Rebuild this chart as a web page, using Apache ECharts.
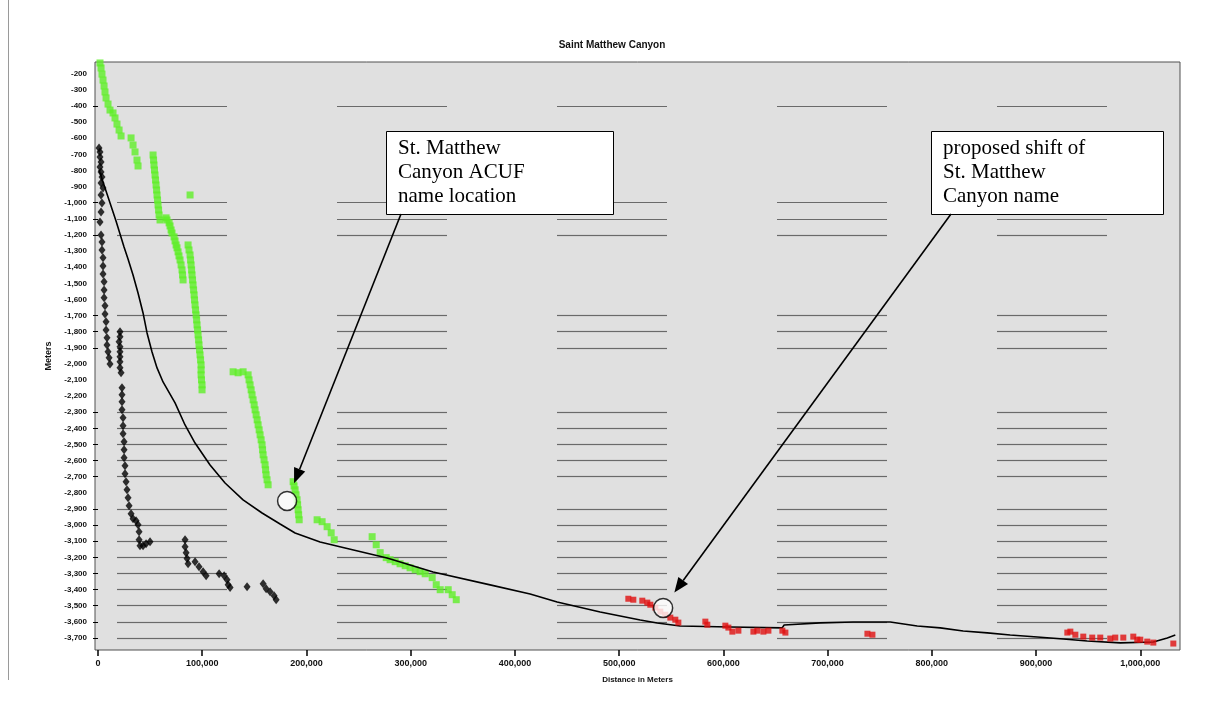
<!DOCTYPE html>
<html>
<head>
<meta charset="utf-8">
<script src="https://cdn.jsdelivr.net/npm/echarts@6/dist/echarts.min.js"></script>
<style>
html, body { margin: 0; padding: 0; background: #ffffff; }
#chart { width: 1206px; height: 709px; }
</style>
</head>
<body>
<div id="chart"></div>
<script>
// ---- text ----
const chartTitle = 'Saint Matthew Canyon';
const xAxisName = 'Distance in Meters';
const yAxisName = 'Meters';

// ---- axis ticks ----
const xTickValues = [0, 100000, 200000, 300000, 400000, 500000, 600000, 700000, 800000, 900000, 1000000];
const yLabelValues = [-200, -300, -400, -500, -600, -700, -800, -900, -1000, -1100, -1200, -1300,
  -1400, -1500, -1600, -1700, -1800, -1900, -2000, -2100, -2200, -2300, -2400, -2500,
  -2600, -2700, -2800, -2900, -3000, -3100, -3200, -3300, -3400, -3500, -3600, -3700];
const yGridValues = [-400, -1000, -1100, -1200, -1700, -1800, -1900, -2300, -2400, -2500,
  -2600, -2700, -2900, -3000, -3100, -3200, -3300, -3400, -3500, -3600, -3700];

// ---- soundings along the canyon (distance m, depth m) ----
const greenSoundings = [
  [1900, -133], [2900, -164], [3800, -202], [4800, -239], [5800, -276], [6700, -313], [7700, -350], [9600, -388], [11500, -425],
  [14400, -443], [16300, -474], [18200, -512], [20200, -549], [22100, -586],
  [31700, -598], [33600, -642], [35500, -685], [37400, -735], [38400, -772],
  [52800, -704], [53300, -735], [53700, -766], [54200, -797], [54700, -828], [55200, -859], [55700, -890], [56200, -921],
  [56600, -952], [57100, -983], [57600, -1014], [58100, -1045], [58600, -1076], [59500, -1107],
  [65300, -1094], [66200, -1107], [68200, -1125], [69100, -1144], [70100, -1169], [71000, -1188], [72960, -1212], [73900, -1237],
  [74900, -1262], [75800, -1280], [76800, -1305], [77700, -1330], [78700, -1355], [79700, -1386], [80600, -1417], [81100, -1448], [81600, -1479],
  [88300, -952],
  [86400, -1262], [87300, -1293], [88300, -1324], [88800, -1355], [89300, -1386], [89800, -1417], [90200, -1448], [90700, -1479],
  [91200, -1510], [91700, -1541], [92200, -1572], [92600, -1603], [93100, -1634], [93600, -1665], [94100, -1696], [94600, -1727],
  [95000, -1758], [95500, -1789], [96000, -1820], [96500, -1851], [96900, -1882], [97400, -1913], [97900, -1944], [98400, -1975],
  [98900, -2006], [98900, -2037], [98900, -2068], [99300, -2099], [99800, -2130], [99800, -2161],
  [129600, -2049], [134400, -2055], [139200, -2049], [144000, -2068], [144900, -2099], [145900, -2130], [146900, -2161],
  [147800, -2192], [148800, -2223], [149800, -2254], [150700, -2285], [151700, -2316], [152700, -2347], [153600, -2378],
  [154600, -2409], [155500, -2440], [156500, -2471], [157400, -2502], [157900, -2533], [158400, -2564], [159300, -2595],
  [160300, -2626], [160800, -2657], [161300, -2688], [162200, -2719], [163200, -2750],
  [187200, -2731], [188100, -2757], [189100, -2781], [190000, -2812], [191000, -2843], [191500, -2874], [192000, -2905],
  [192500, -2936], [193000, -2967],
  [210200, -2967], [215000, -2979], [219800, -3010], [223700, -3048], [226600, -3091],
  [263000, -3072], [266900, -3122], [270700, -3171], [276500, -3202], [280200, -3215], [285100, -3227], [289800, -3240],
  [294700, -3252], [299400, -3265], [304300, -3277], [309000, -3289], [313900, -3302], [320600, -3326], [324500, -3370],
  [328300, -3401], [336000, -3401], [339800, -3432], [343700, -3463]
];

const blackSoundings = [
  [960, -661], [1900, -685], [1900, -716], [2900, -747], [1900, -778], [2900, -809], [3800, -840], [2900, -877], [4800, -908],
  [2900, -952], [3800, -1001], [2900, -1057], [1900, -1119], [2900, -1200], [3800, -1243], [3800, -1293], [4800, -1342],
  [4800, -1392], [4800, -1442], [5800, -1491], [5800, -1541], [5800, -1590], [6700, -1640], [6700, -1690], [7700, -1739],
  [7700, -1789], [8600, -1838], [8600, -1882], [9600, -1925], [10600, -1962], [11500, -2000],
  [21100, -1801], [21100, -1832], [20200, -1863], [21100, -1894], [21100, -1925], [21100, -1956], [21100, -1987], [21100, -2024],
  [22100, -2055], [23000, -2148], [23000, -2192], [23000, -2235], [23000, -2285], [24000, -2334], [24000, -2384], [24000, -2434],
  [25000, -2483], [25000, -2533], [25000, -2582], [25900, -2632], [25900, -2682], [26900, -2731], [27800, -2781], [28800, -2830],
  [29800, -2880], [31700, -2930], [33600, -2961], [36500, -2973], [38400, -2998], [39400, -3041], [39400, -3091], [40300, -3128],
  [43200, -3128], [46100, -3116], [49900, -3103],
  [83500, -3091], [83500, -3134], [84500, -3171], [85400, -3208], [86400, -3240], [93100, -3227], [96900, -3258], [100800, -3289],
  [103700, -3314], [116200, -3302], [121000, -3314], [123800, -3339], [124800, -3370], [126700, -3388], [143000, -3382],
  [158400, -3364], [161300, -3395], [165100, -3413], [168900, -3438], [170900, -3463]
];

const redSoundings = [
  [508800, -3457], [513600, -3463], [522200, -3469], [527000, -3481], [529900, -3494], [534700, -3512], [539500, -3537],
  [544300, -3556], [549100, -3574], [553900, -3587], [556800, -3605], [582700, -3599], [584600, -3618], [601900, -3624],
  [604800, -3636], [608600, -3661], [614400, -3655], [628800, -3661], [632600, -3655], [638400, -3661], [643200, -3655],
  [656600, -3655], [659500, -3667], [738200, -3674], [743000, -3680],
  [930000, -3667], [932900, -3661], [937700, -3680], [945300, -3692], [953900, -3698], [961600, -3698], [971200, -3704],
  [976000, -3698], [983700, -3698], [993300, -3692], [997100, -3711], [1000000, -3711], [1006700, -3723], [1012500, -3729], [1031700, -3735]
];

// ---- thalweg profile ----
const profileLine = [
  [960, -797], [2880, -834], [4800, -871], [6720, -909], [8640, -946], [11520, -1002], [14400, -1058], [17270, -1113],
  [21110, -1194], [24950, -1275], [28790, -1349], [33590, -1448], [38390, -1560], [43190, -1684], [47030, -1808],
  [51820, -1926], [56620, -2025], [62380, -2112], [73900, -2242], [83490, -2379], [93090, -2491], [107490, -2627],
  [121880, -2739], [139160, -2844], [157390, -2925], [174670, -2993], [189060, -3049], [213050, -3105], [237040, -3142],
  [277350, -3204], [321500, -3291], [376200, -3371], [414600, -3427], [440500, -3477], [481800, -3539], [520200, -3589],
  [536500, -3607], [558500, -3626], [606500, -3632], [656400, -3638], [658300, -3620], [692900, -3607], [724600, -3601],
  [760100, -3601], [786000, -3626], [808100, -3638], [830100, -3657], [853200, -3669], [875200, -3682], [901200, -3694],
  [926100, -3707], [949100, -3719], [980800, -3731], [1012500, -3725], [1025900, -3700], [1033600, -3682]
];

// ---- name locations ----
const calloutText = [
  ['St. Matthew', 'Canyon ACUF', 'name location'],
  ['proposed shift of', 'St. Matthew', 'Canyon name']
];
const calloutPoints = [[181400, -2850], [542200, -3514]];

// text box layout (pixels): x, y, width, height, arrow start
const calloutBoxes = [
  { x: 386, y: 131, w: 227, h: 83, ax: 401, ay: 214 },
  { x: 931, y: 131, w: 232, h: 83, ax: 951, ay: 214 }
];

const chart = echarts.init(document.getElementById('chart'), null, { renderer: 'canvas' });

const labelFont = { fontFamily: 'Liberation Sans, Arial, sans-serif', color: '#111' };

const option = {
  animation: false,
  backgroundColor: '#ffffff',
  grid: {
    left: 95, right: 26, top: 62, bottom: 59,
    show: true,
    backgroundColor: '#e0e0e0',
    borderColor: '#505050',
    borderWidth: 1,
    outerBoundsMode: 'none'
  },
  xAxis: {
    type: 'value',
    min: -2900,
    max: 1038100,
    name: xAxisName,
    nameLocation: 'middle',
    nameGap: 26,
    nameTextStyle: Object.assign({ fontSize: 8, fontWeight: 'bold' }, labelFont),
    axisLine: { show: false },
    axisTick: { show: true, customValues: xTickValues, length: 6, lineStyle: { color: '#000', width: 1.5 } },
    axisLabel: {
      customValues: xTickValues,
      fontSize: 9, fontWeight: 'bold', margin: 9,
      fontFamily: labelFont.fontFamily, color: labelFont.color,
      formatter: v => v.toLocaleString('en-US')
    },
    splitLine: { show: false }
  },
  yAxis: {
    type: 'value',
    min: -3775,
    max: -127,
    name: yAxisName,
    nameLocation: 'middle',
    nameGap: 40,
    nameRotate: 90,
    nameTextStyle: Object.assign({ fontSize: 9, fontWeight: 'bold' }, labelFont),
    axisLine: { show: false },
    axisTick: { show: true, customValues: yGridValues, length: 5, lineStyle: { color: '#000', width: 1 } },
    axisLabel: {
      customValues: yLabelValues,
      fontSize: 8, fontWeight: 'bold', margin: 8,
      fontFamily: labelFont.fontFamily, color: labelFont.color,
      formatter: v => v.toLocaleString('en-US')
    },
    splitLine: {
      show: true,
      lineStyle: { color: '#6a6a6a', width: 1.2, type: [110, 110], dashOffset: 198 }
    }
  },
  series: [
    {
      name: 'green', type: 'scatter', data: greenSoundings,
      symbol: 'rect', symbolSize: 7,
      itemStyle: { color: '#5fef28' }, z: 2
    },
    {
      name: 'black', type: 'scatter', data: blackSoundings,
      symbol: 'diamond', symbolSize: [7, 9],
      itemStyle: { color: '#000000' }, z: 3
    },
    {
      name: 'profile', type: 'line', data: profileLine,
      showSymbol: false, symbol: 'none',
      lineStyle: { color: '#000000', width: 1.6 }, z: 4
    },
    {
      name: 'red', type: 'scatter', data: redSoundings,
      symbol: 'rect', symbolSize: 6,
      itemStyle: { color: '#e01010' }, z: 5
    },
    {
      name: 'callouts', type: 'scatter', data: calloutPoints,
      symbol: 'circle', symbolSize: 19,
      itemStyle: { color: '#ffffff', borderColor: '#000000', borderWidth: 1.5 }, z: 10
    }
  ],
  graphic: [
    {
      type: 'line', silent: true,
      shape: { x1: 8.5, y1: 0, x2: 8.5, y2: 680 },
      style: { stroke: '#9a9a9a', lineWidth: 1 }
    },
    {
      type: 'text', silent: true, x: 612, y: 45,
      style: {
        text: chartTitle, align: 'center', verticalAlign: 'middle',
        font: 'bold 10px "Liberation Sans", Arial, sans-serif', fill: '#111'
      }
    }
  ]
};

chart.setOption(option);

// callout boxes and arrows
const extra = [];
calloutBoxes.forEach((b, i) => {
  extra.push({
    type: 'rect', silent: true, z: 100,
    shape: { x: b.x + 0.5, y: b.y + 0.5, width: b.w, height: b.h },
    style: { fill: '#ffffff', stroke: '#000000', lineWidth: 1 }
  });
  extra.push({
    type: 'text', silent: true, z: 101,
    x: b.x + 12, y: b.y + 5,
    style: {
      text: calloutText[i].join('\n'),
      font: '21px "Liberation Serif", "Times New Roman", serif',
      lineHeight: 24, fill: '#000000'
    }
  });
  const c = chart.convertToPixel({ gridIndex: 0 }, calloutPoints[i]);
  const dx = b.ax - c[0], dy = b.ay - c[1];
  const len = Math.sqrt(dx * dx + dy * dy);
  const ux = dx / len, uy = dy / len;
  const tip = [c[0] + ux * 19, c[1] + uy * 19];
  const base = [tip[0] + ux * 15, tip[1] + uy * 15];
  const px = -uy, py = ux;
  extra.push({
    type: 'line', silent: true, z: 102,
    shape: { x1: b.ax, y1: b.ay, x2: base[0], y2: base[1] },
    style: { stroke: '#000000', lineWidth: 1.6 }
  });
  extra.push({
    type: 'polygon', silent: true, z: 102,
    shape: { points: [tip, [base[0] + px * 6, base[1] + py * 6], [base[0] - px * 6, base[1] - py * 6]] },
    style: { fill: '#000000' }
  });
});
chart.setOption({ graphic: option.graphic.concat(extra) });
</script>
</body>
</html>
